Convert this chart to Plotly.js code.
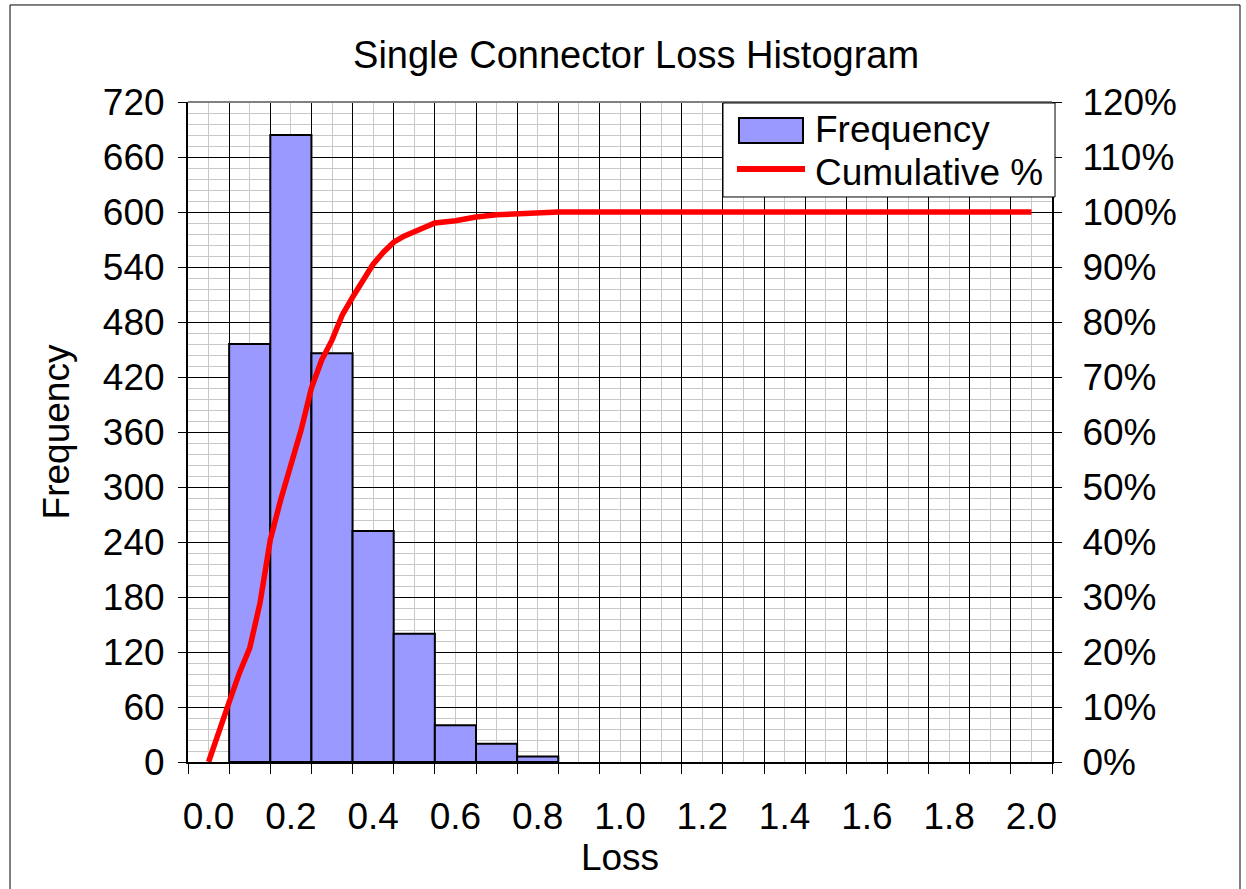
<!DOCTYPE html>
<html>
<head>
<meta charset="utf-8">
<script src="https://cdn.plot.ly/plotly-3.0.1.min.js"></script>
<style>html,body{margin:0;padding:0;background:#fff;}#chart{width:1246px;height:889px;}</style>
</head>
<body>
<div id="chart"></div>
<script>
// Histogram bins (category = upper bin value) and counts
const binValues = [0.1, 0.2, 0.3, 0.4, 0.5, 0.6, 0.7, 0.8];
const frequency = [456, 684, 446, 252, 140, 40, 20, 6];

// Cumulative % curve
const cumX = [0, 0.025, 0.05, 0.075, 0.1, 0.125, 0.15, 0.175, 0.2, 0.225, 0.25, 0.275, 0.3, 0.325, 0.35, 0.375, 0.4, 0.425, 0.45, 0.475, 0.5, 0.525, 0.55, 0.6, 0.65, 0.7, 0.75, 0.8, 0.85, 2.0];
const cumPct = [0, 0.051, 0.109, 0.162, 0.207, 0.289, 0.404, 0.476, 0.54, 0.604, 0.68, 0.731, 0.767, 0.813, 0.845, 0.873, 0.905, 0.927, 0.945, 0.956, 0.964, 0.973, 0.98, 0.984, 0.991, 0.995, 0.996, 0.998, 1.0, 1.0];

// Axis tick labels
const xTickVals = [0, 0.2, 0.4, 0.6, 0.8, 1.0, 1.2, 1.4, 1.6, 1.8, 2.0];
const xTickText = ['0.0', '0.2', '0.4', '0.6', '0.8', '1.0', '1.2', '1.4', '1.6', '1.8', '2.0'];

const FONT = 'Liberation Sans, Arial, sans-serif';
const FS = 37;

const traces = [
  {
    type: 'bar', name: 'Frequency', x: binValues, y: frequency, width: 0.1,
    xaxis: 'x', yaxis: 'y',
    marker: {color: '#9999FF', line: {color: '#000000', width: 2}},
    showlegend: false, hoverinfo: 'x+y'
  },
  {
    type: 'scatter', mode: 'lines', name: 'Cumulative %', x: cumX, y: cumPct,
    xaxis: 'x2', yaxis: 'y2',
    line: {color: '#FF0000', width: 5.5},
    showlegend: false
  }
];

const XR = [-0.05, 2.05];

const layout = {
  width: 1246, height: 889,
  margin: {l: 188, r: 194, t: 102, b: 127, pad: 0},
  paper_bgcolor: '#ffffff', plot_bgcolor: '#ffffff',
  font: {family: FONT, size: FS, color: '#000000'},
  bargap: 0,
  title: {text: 'Single Connector Loss Histogram', font: {family: FONT, size: 38, color: '#000'},
          x: 0.5105, xanchor: 'center', y: 0.938, yanchor: 'middle', xref: 'container', yref: 'container'},
  xaxis: {
    range: XR, tickmode: 'array', tickvals: xTickVals, ticktext: xTickText,
    showgrid: false, zeroline: false, ticks: '', showline: false,
    tickfont: {family: FONT, size: FS, color: '#000'}, ticklabelstandoff: 29,
    title: {text: 'Loss', font: {family: FONT, size: FS, color: '#000'}, standoff: 2}
  },
  xaxis2: {
    overlaying: 'x', anchor: 'y', side: 'bottom', range: XR,
    tickmode: 'linear', tick0: -0.05, dtick: 0.1, showticklabels: false,
    ticks: 'outside', ticklen: 10, tickcolor: '#000', tickwidth: 1,
    showgrid: true, gridcolor: '#000000', gridwidth: 1, zeroline: false,
    showline: true, linecolor: '#000', linewidth: 2,
    minor: {tick0: -0.05, dtick: 0.05, showgrid: true, gridcolor: '#c8c8c8', gridwidth: 1, ticks: ''}
  },
  yaxis: {
    range: [0, 720], tickmode: 'linear', tick0: 0, dtick: 60,
    ticks: 'outside', ticklen: 8, tickcolor: '#000', tickwidth: 1,
    showgrid: true, gridcolor: '#000000', gridwidth: 1, zeroline: false,
    showline: true, linecolor: '#000', linewidth: 2,
    minor: {dtick: 12, showgrid: true, gridcolor: '#c8c8c8', gridwidth: 1, ticks: ''},
    tickfont: {family: FONT, size: FS, color: '#000'}, ticklabelstandoff: 6,
    title: {text: 'Frequency', font: {family: FONT, size: FS, color: '#000'}, standoff: 22}
  },
  yaxis2: {
    overlaying: 'y', side: 'right', anchor: 'x', range: [0, 1.2],
    tickmode: 'linear', tick0: 0, dtick: 0.1, tickformat: '.0%',
    ticks: 'outside', ticklen: 8, tickcolor: '#000', tickwidth: 1,
    showgrid: false, zeroline: false, showline: true, linecolor: '#000', linewidth: 2,
    tickfont: {family: FONT, size: FS, color: '#000'}, ticklabelstandoff: 13
  },
  shapes: [
    // outer chart border
    {type: 'rect', xref: 'paper', yref: 'paper', x0: -0.206, x1: 1.2176, y0: -0.25, y1: 1.147,
     line: {color: '#000', width: 1}, fillcolor: 'rgba(0,0,0,0)', layer: 'below'},
    // top plot border
    {type: 'line', xref: 'paper', yref: 'paper', x0: 0, x1: 1, y0: 1, y1: 1, line: {color: '#808080', width: 2}},
    // legend box
    {type: 'rect', xref: 'paper', yref: 'paper', x0: 0.6192, x1: 1.0035, y0: 0.8561, y1: 0.9985,
     line: {color: '#000', width: 1}, fillcolor: '#ffffff', layer: 'above'},
    // legend swatch: Frequency
    {type: 'rect', xref: 'paper', yref: 'paper', x0: 0.6377, x1: 0.7118, y0: 0.9379, y1: 0.9758,
     line: {color: '#000', width: 2}, fillcolor: '#9999FF', layer: 'above'},
    // legend swatch: Cumulative %
    {type: 'line', xref: 'paper', yref: 'paper', x0: 0.6354, x1: 0.7141, y0: 0.8985, y1: 0.8985,
     line: {color: '#FF0000', width: 6}, layer: 'above'}
  ],
  annotations: [
    {text: 'Frequency', xref: 'paper', yref: 'paper', x: 0.7237, y: 0.9576, xanchor: 'left', yanchor: 'middle',
     showarrow: false, font: {family: FONT, size: FS, color: '#000'}},
    {text: 'Cumulative %', xref: 'paper', yref: 'paper', x: 0.7237, y: 0.8939, xanchor: 'left', yanchor: 'middle',
     showarrow: false, font: {family: FONT, size: FS, color: '#000'}}
  ]
};

Plotly.newPlot('chart', traces, layout, {staticPlot: true, displayModeBar: false});
</script>
</body>
</html>
